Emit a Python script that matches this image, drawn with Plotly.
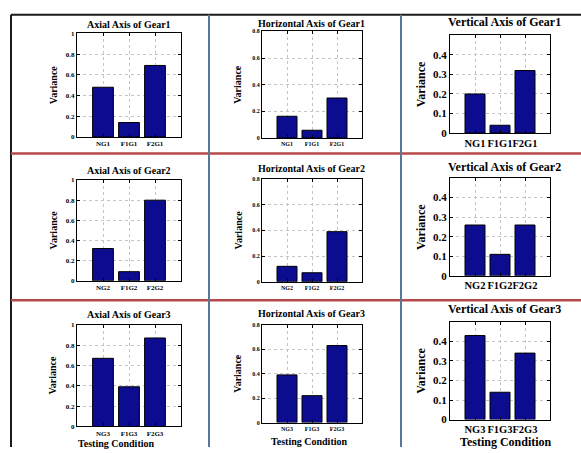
import plotly.graph_objects as go

W, H = 581, 453

# ---- data ----
titles = [
    "Axial Axis of Gear1", "Horizontal Axis of Gear1", "Vertical Axis of Gear1",
    "Axial Axis of Gear2", "Horizontal Axis of Gear2", "Vertical Axis of Gear2",
    "Axial Axis of Gear3", "Horizontal Axis of Gear3", "Vertical Axis of Gear3",
]
cats_g1 = ["NG1", "F1G1", "F2G1"]
cats_g2 = ["NG2", "F1G2", "F2G2"]
cats_g3 = ["NG3", "F1G3", "F2G3"]
axial_g1 = [0.48, 0.14, 0.69]
horiz_g1 = [0.163, 0.058, 0.30]
vert_g1 = [0.20, 0.04, 0.32]
axial_g2 = [0.32, 0.09, 0.80]
horiz_g2 = [0.12, 0.07, 0.39]
vert_g2 = [0.26, 0.11, 0.26]
axial_g3 = [0.67, 0.39, 0.87]
horiz_g3 = [0.39, 0.22, 0.63]
vert_g3 = [0.43, 0.14, 0.34]

yticks_axial = [0, 0.2, 0.4, 0.6, 0.8, 1]
yticktext_axial = ["0", "0.2", "0.4", "0.6", "0.8", "1"]
yticks_horiz = [0, 0.2, 0.4, 0.6, 0.8]
yticktext_horiz = ["0", "0.2", "0.4", "0.6", "0.8"]
yticks_vert = [0, 0.1, 0.2, 0.3, 0.4]
yticktext_vert = ["0", "0.1", "0.2", "0.3", "0.4"]

xlabel = "Testing Condition"
ylabel = "Variance"

cats = [cats_g1, cats_g1, cats_g1, cats_g2, cats_g2, cats_g2, cats_g3, cats_g3, cats_g3]
vals = [axial_g1, horiz_g1, vert_g1, axial_g2, horiz_g2, vert_g2, axial_g3, horiz_g3, vert_g3]
ranges = [1, 0.8, 0.5] * 3
ytv = [yticks_axial, yticks_horiz, yticks_vert] * 3
ytt = [yticktext_axial, yticktext_horiz, yticktext_vert] * 3

# ---- layout geometry (pixels) ----
col_x = [(77, 181), (262, 362), (450, 550)]
panel_y = [(30, 136), (28, 137), (32, 132),
           (180, 283), (179, 284), (178, 278),
           (328, 432), (328, 428), (325, 425)]
title_y = [21, 20, 18, 170, 168, 167, 317, 316, 312]
title_x = [129, 311, 504, 129, 311, 504, 129, 311, 504]
ylab_x = [53, 238, 421]
xlab_pos = [(116, 449), (309, 447), (506, 448)]

FONT = "Times New Roman, Liberation Serif, serif"
title_size = [10, 10, 12]
tick_size_y = [7, 6, 11]
tick_size_x = [7, 6, 10.5]
ylab_size = [10, 10, 12]
xlab_size = [10, 10, 12]

def px(x):
    return x / W

def py(y):
    return 1 - y / H

fig = go.Figure()
annotations = []
for i in range(9):
    c = i % 3
    n = i + 1
    xa = "xaxis" if n == 1 else f"xaxis{n}"
    ya = "yaxis" if n == 1 else f"yaxis{n}"
    xr = "x" if n == 1 else f"x{n}"
    yr = "y" if n == 1 else f"y{n}"
    fig.add_trace(go.Bar(
        x=[0, 1, 2], y=vals[i], width=0.8,
        marker=dict(color="#0c0c90", line=dict(color="black", width=1)),
        xaxis=xr, yaxis=yr, showlegend=False,
    ))
    x0, x1 = col_x[c]
    y0, y1 = panel_y[i]
    fig.layout[xa] = dict(
        domain=[px(x0), px(x1)], anchor=yr, range=[-1, 3],
        tickvals=[0, 1, 2], ticktext=cats[i], tickangle=0,
        showgrid=True, gridcolor="#c4c4c4", griddash="dot", gridwidth=1,
        showline=True, linecolor="black", linewidth=1, mirror="ticks",
        ticks="inside", ticklen=3, tickcolor="black",
        tickfont=dict(family=FONT, size=tick_size_x[c], color="black", weight="bold"),
        zeroline=False, fixedrange=True,
    )
    fig.layout[ya] = dict(
        domain=[py(y1), py(y0)], anchor=xr, range=[0, ranges[i]],
        tickvals=ytv[i], ticktext=ytt[i],
        showgrid=True, gridcolor="#c4c4c4", griddash="dot", gridwidth=1,
        showline=True, linecolor="black", linewidth=1, mirror="ticks",
        ticks="inside", ticklen=3, tickcolor="black",
        tickfont=dict(family=FONT, size=tick_size_y[c], color="black", weight="bold"),
        zeroline=False, fixedrange=True,
    )
    annotations.append(dict(
        text=titles[i], x=px(title_x[i]), y=py(title_y[i]), xref="paper", yref="paper",
        xanchor="center", yanchor="middle", showarrow=False,
        font=dict(family=FONT, size=title_size[c], color="black", weight="bold"),
    ))
    annotations.append(dict(
        text=ylabel, x=px(ylab_x[c]), y=py((y0 + y1) / 2), xref="paper", yref="paper",
        xanchor="center", yanchor="middle", showarrow=False, textangle=-90,
        font=dict(family=FONT, size=ylab_size[c], color="black", weight="bold"),
    ))
    if i >= 6:
        lx, ly = xlab_pos[c]
        annotations.append(dict(
            text=xlabel, x=px(lx), y=py(ly), xref="paper", yref="paper",
            xanchor="center", yanchor="middle", showarrow=False,
            font=dict(family=FONT, size=xlab_size[c], color="black", weight="bold"),
        ))

shapes = [
    dict(type="line", xref="paper", yref="paper", x0=px(11), x1=1, y0=py(11), y1=py(11),
         line=dict(color="#1a1a1a", width=2)),
    dict(type="line", xref="paper", yref="paper", x0=px(11), x1=px(11), y0=py(11), y1=0,
         line=dict(color="#1a1a1a", width=2)),
]
for yy in (153, 303):
    shapes.append(dict(type="line", xref="paper", yref="paper", x0=px(11), x1=1,
                       y0=py(yy), y1=py(yy), line=dict(color="#b8494a", width=2.5)))
for xx in (209, 401):
    shapes.append(dict(type="line", xref="paper", yref="paper", x0=px(xx), x1=px(xx),
                       y0=py(11), y1=0, line=dict(color="#58789a", width=2)))

fig.update_layout(
    width=W, height=H, margin=dict(l=0, r=0, t=0, b=0),
    paper_bgcolor="white", plot_bgcolor="white",
    annotations=annotations, shapes=shapes, bargap=0.2,
    font=dict(family=FONT, color="black"),
)
fig.write_html("out.html")
